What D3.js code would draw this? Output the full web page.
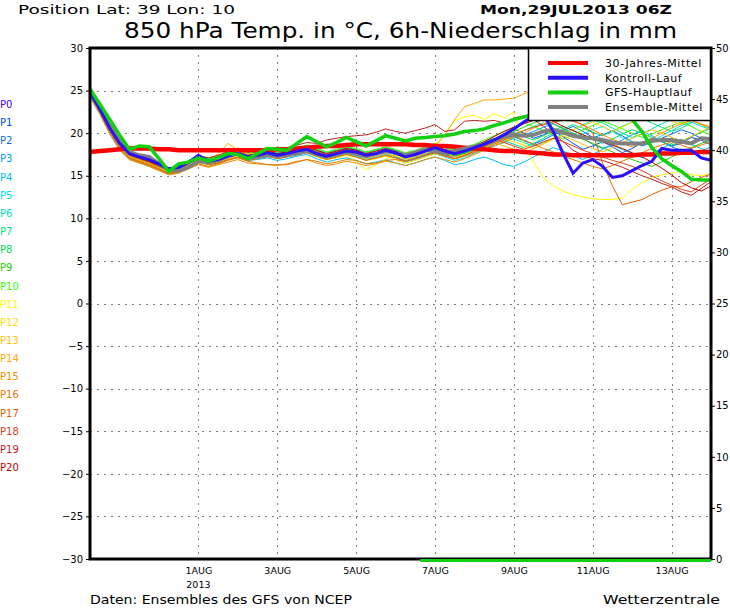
<!DOCTYPE html>
<html>
<head>
<meta charset="utf-8">
<script src="https://cdn.jsdelivr.net/npm/d3@7"></script>
<style>
  body { margin: 0; background: #fff; }
  svg { display: block; font-family: "DejaVu Sans", sans-serif; }
</style>
</head>
<body>
<svg id="chart" width="730" height="609"></svg>
<script>
// run start and time step (6h)
const runStart = Date.UTC(2013, 6, 29, 6);
const stepHours = 6;
const endTime = Date.UTC(2013, 7, 14, 0);

// 30-Jahres-Mittel
const climate = [17.8,17.9,18.0,18.1,18.2,18.2,18.2,18.1, 18.1,18.0,18.0,18.0,18.0,18.0,18.0,18.0,
  18.0,18.0,18.0,18.1,18.1,18.2,18.3,18.4, 18.5,18.5,18.6,18.7,18.7,18.7,18.7,18.7,
  18.7,18.6,18.6,18.5,18.5,18.4,18.3,18.2, 18.1,18.0,17.9,17.9,17.8,17.7,17.6,17.5,
  17.5,17.4,17.4,17.4,17.4,17.4,17.4,17.4, 17.5,17.5,17.6,17.6,17.7,17.7,17.8,17.8];

// Kontroll-Lauf (P0)
const control = [24.8,22.8,20.6,18.8,17.6,17.2,16.9,16.4, 15.8,16.0,16.6,17.4,16.7,16.9,17.3,17.6,
  17.2,17.4,17.7,17.4,17.6,17.9,18.1,17.6, 17.3,17.6,17.9,17.8,17.4,17.6,18.0,17.7,
  17.2,17.5,17.9,18.3,17.9,17.6,17.9,18.3, 18.7,19.2,19.8,20.5,21.3,22.0,22.2,20.2,
  17.6,15.3,16.5,16.9,16.1,14.8,15.0,15.6, 16.2,16.7,18.2,18.0,18.0,18.0,17.1,16.8];

// GFS-Hauptlauf
const gfsMain = [25.2,23.4,21.6,19.8,18.1,18.5,18.4,17.0, 15.5,16.4,16.6,17.1,16.7,17.1,17.6,17.5,
  17.0,17.6,18.2,18.1,18.0,18.8,19.6,19.0, 18.4,18.9,19.5,19.0,18.5,19.1,19.7,19.4,
  19.1,19.4,19.5,19.6,19.7,19.9,20.2,20.3, 20.5,20.9,21.2,21.6,21.9,22.2,22.5,22.8,
  23.0,23.2,23.4,23.4,23.2,22.8,22.2,21.6, 20.2,18.3,17.0,16.2,15.5,14.6,14.5,14.5];

// Ensemble-Mittel
const ensMean = [24.6,23.2,21.2,19.3,17.8,17.4,17.2,16.4, 15.7,15.6,16.0,16.7,16.6,16.8,17.3,17.6,
  17.1,17.2,17.4,17.3,17.4,17.6,17.9,17.5, 17.2,17.5,17.8,17.6,17.3,17.6,17.9,17.7,
  17.4,17.7,18.1,17.9,17.6,17.9,18.2,18.4, 18.7,19.1,19.7,19.8,19.7,19.8,20.2,20.4,
  20.1,19.7,19.5,19.4,19.2,18.9,18.8,18.8, 18.8,19.1,19.2,19.2,19.0,18.8,19.4,19.3];

// ensemble members P1..P20
const p1 = [24.6,22.9,20.8,18.9,17.5,17.0,16.6,16.0, 15.6,15.8,16.4,17.0,16.8,17.1,17.4,17.8,
  17.3,17.5,17.8,17.6,17.9,18.2,18.4,17.9, 17.5,17.8,18.2,18.0,17.5,17.7,18.1,17.9,
  17.3,17.2,17.6,17.9,17.5,17.2,17.6,18.0, 18.6,19.3,19.9,20.5,20.0,19.4,19.8,20.3,
  19.6,18.8,18.1,18.5,19.0,18.4,17.7,18.2, 18.9,19.4,19.0,18.5,18.8,19.5,19.2,18.6];
const p2 = [24.4,22.5,20.3,18.5,17.2,16.8,16.5,15.9, 15.5,15.9,16.7,17.3,16.9,16.8,17.2,17.5,
  17.0,17.3,17.6,17.3,17.5,17.9,18.1,17.7, 17.3,17.6,17.9,17.7,17.2,17.5,17.8,17.5,
  17.0,17.4,17.8,18.2,17.8,17.4,17.7,18.1, 18.5,18.9,19.3,19.6,19.1,18.7,19.2,19.8,
  20.3,20.8,20.2,19.5,19.8,20.3,19.7,19.0, 18.5,18.9,19.4,19.9,20.4,20.0,19.4,19.0];
const p3 = [24.5,22.7,20.5,18.6,17.3,16.9,16.4,15.8, 15.4,15.6,16.2,16.9,16.6,16.9,17.3,17.6,
  17.1,17.2,17.5,17.3,17.6,17.8,18.0,17.5, 17.2,17.5,17.7,17.4,17.0,17.3,17.6,17.2,
  16.8,17.1,17.5,17.8,17.4,17.0,17.4,17.8, 18.2,18.5,18.9,19.4,19.8,20.2,20.7,21.1,
  20.6,20.0,19.4,18.7,18.2,18.6,19.2,19.8, 20.3,19.7,19.0,18.4,18.0,17.6,17.9,18.4];
const p4 = [24.2,22.2,19.9,18.0,16.9,16.5,16.1,15.6, 15.2,15.4,16.0,16.6,16.3,16.5,16.9,17.2,
  16.8,16.9,17.1,16.8,17.0,17.3,17.5,17.0, 16.6,16.9,17.1,16.8,16.4,16.6,16.9,16.5,
  16.2,16.5,16.9,17.2,16.8,16.3,16.5,16.9, 17.2,16.8,16.3,16.1,16.6,17.2,17.8,18.3,
  17.9,17.4,16.9,17.5,18.1,18.6,18.1,17.6, 17.1,17.6,18.2,18.8,19.3,18.7,18.2,17.8];
const p5 = [24.4,22.4,20.2,18.4,17.1,16.7,16.3,15.8, 15.4,15.7,16.3,16.9,16.7,17.0,17.4,17.7,
  17.2,17.4,17.6,17.2,17.4,17.7,17.9,17.4, 17.1,17.4,17.6,17.3,16.9,17.2,17.5,17.1,
  16.6,16.9,17.3,17.6,17.2,16.8,17.1,17.6, 18.1,18.7,19.2,19.7,20.3,20.8,21.2,20.6,
  20.1,19.6,19.9,20.4,20.8,20.2,19.5,19.0, 18.7,19.1,19.7,20.3,20.9,21.3,20.8,20.4];
const p6 = [24.6,22.8,20.6,18.8,17.5,17.1,16.7,16.2, 15.7,15.9,16.5,17.1,16.9,17.2,17.6,17.9,
  17.4,17.6,17.9,17.6,17.8,18.1,18.3,17.9, 17.5,17.8,18.1,17.9,17.4,17.6,18.0,17.7,
  17.3,17.6,18.0,18.4,18.0,17.6,17.9,18.3, 18.8,19.2,19.6,19.3,18.9,18.5,18.9,19.4,
  19.9,20.4,21.0,21.5,21.2,20.6,20.0,19.5, 19.9,20.5,21.1,21.6,22.0,21.6,21.0,20.5];
const p7 = [24.7,23.0,20.9,19.0,17.6,17.2,16.8,16.3, 15.8,16.0,16.6,17.2,17.0,17.3,17.7,18.0,
  17.6,17.8,18.0,17.7,18.0,18.3,18.5,18.1, 17.7,18.0,18.3,18.1,17.7,18.0,18.3,18.0,
  17.6,17.8,18.2,18.6,18.3,17.9,18.2,18.6, 19.0,19.4,19.1,18.7,18.3,18.8,19.4,20.0,
  20.5,21.0,20.6,20.1,19.7,20.2,20.8,21.3, 21.7,21.2,20.7,20.2,20.6,21.2,21.8,22.2];
const p8 = [24.5,22.6,20.4,18.6,17.3,16.9,16.6,16.1, 15.6,15.9,16.5,17.0,16.7,17.0,17.4,17.7,
  17.3,17.5,17.7,17.4,17.7,18.0,18.2,17.8, 17.4,17.7,18.0,17.8,17.3,17.5,17.9,17.6,
  17.2,17.5,17.9,18.2,17.8,17.4,17.7,18.0, 18.4,18.9,19.5,20.1,19.6,19.2,19.7,20.3,
  20.8,20.3,19.8,19.3,18.8,19.3,19.9,20.4, 20.0,19.5,19.0,18.6,19.0,19.6,20.1,20.6];
const p9 = [24.6,22.7,20.5,18.7,17.4,17.0,16.7,16.2, 15.7,16.0,16.6,17.2,16.9,17.1,17.5,17.8,
  17.4,17.6,17.8,17.5,17.8,18.1,18.3,17.8, 17.4,17.6,17.9,17.6,17.2,17.5,17.8,17.5,
  17.1,17.4,17.8,18.1,17.7,17.3,17.6,18.0, 18.5,19.1,19.7,20.2,20.7,21.2,21.6,21.1,
  20.5,19.9,19.3,18.8,18.3,17.8,17.3,16.9, 16.5,16.1,16.6,17.2,17.8,18.3,18.8,19.2];
const p10 = [24.7,22.9,20.8,18.9,17.6,17.2,16.9,16.4, 15.9,16.2,16.8,17.4,17.1,17.4,17.8,18.1,
  17.7,17.9,18.1,17.8,18.0,18.3,18.6,18.2, 17.8,18.1,18.4,18.2,17.8,18.1,18.4,18.1,
  17.7,18.0,18.4,18.8,18.4,18.0,18.3,18.7, 19.2,19.7,20.2,20.7,21.2,20.8,20.3,19.8,
  19.3,19.8,20.4,20.9,21.4,21.0,20.5,20.0, 19.5,19.9,20.4,20.9,21.3,20.8,20.2,19.8];
const p11 = [24.3,22.3,20.0,18.2,17.0,16.6,16.2,15.7, 15.3,15.5,16.0,16.5,16.0,16.4,16.9,17.3,
  16.9,17.1,17.4,17.1,17.3,17.5,17.7,17.2, 16.9,17.1,17.4,16.7,15.7,16.3,17.0,17.4,
  17.0,17.4,18.0,18.6,19.8,21.5,21.9,22.1, 21.6,22.3,21.8,22.5,18.5,16.6,14.8,13.8,
  13.2,12.8,12.5,12.3,12.2,12.2,12.4,13.4, 14.2,14.8,15.1,15.3,15.5,15.1,15.0,15.3];
const p12 = [24.4,22.4,20.1,18.3,17.1,16.7,16.3,15.8, 15.3,15.6,16.1,16.7,16.3,16.6,17.0,17.4,
  17.0,17.2,17.5,17.2,17.4,17.6,17.9,17.4, 17.0,17.3,17.5,17.2,16.8,17.0,17.3,16.9,
  16.5,16.8,17.2,17.6,17.3,17.0,17.4,17.9, 18.3,18.8,19.3,19.0,18.6,18.2,18.7,19.3,
  19.8,20.4,20.9,21.3,20.8,20.2,20.7,21.3, 21.8,22.3,21.9,21.4,21.0,21.5,22.0,21.6];
const p13 = [24.5,22.6,20.4,18.5,17.2,16.8,16.4,15.9, 15.4,15.7,16.3,16.9,16.5,16.8,17.3,18.3,
  17.6,17.5,17.7,17.4,17.6,17.9,18.1,17.6, 17.2,17.5,17.8,17.5,17.0,17.3,17.6,17.3,
  16.9,17.2,17.6,18.0,17.6,17.2,17.5,17.9, 18.4,18.9,18.5,18.1,17.7,18.2,18.8,19.3,
  19.7,19.2,18.7,18.2,17.8,18.3,18.9,19.4, 19.9,20.4,20.0,19.5,19.1,19.6,20.2,20.7];
const p14 = [24.6,22.7,20.5,18.6,17.3,16.9,16.5,16.0, 15.5,15.8,16.4,17.0,16.7,17.6,18.8,18.0,
  17.4,17.5,17.8,17.5,17.7,18.0,18.2,17.8, 17.4,17.7,18.0,17.7,17.3,17.6,17.9,17.6,
  17.3,17.6,18.0,18.4,19.8,21.6,23.1,23.5, 23.9,23.9,24.0,24.1,24.6,25.0,25.2,25.4,
  25.3,25.0,24.6,24.2,23.8,23.5,23.1,22.8, 22.4,22.1,21.9,21.6,21.8,21.5,21.0,20.6];
const p15 = [24.3,22.3,20.0,18.1,16.9,16.5,16.1,15.6, 15.1,15.3,15.8,16.3,16.0,16.3,16.6,16.9,
  16.5,16.4,16.3,16.2,16.4,16.7,16.9,16.5, 16.2,16.4,16.7,16.5,16.2,16.4,16.7,16.5,
  16.2,16.5,16.9,17.2,16.9,16.6,17.0,17.5, 18.0,18.5,19.0,19.5,20.0,20.6,21.1,21.6,
  22.0,21.5,21.0,20.4,19.8,19.3,18.8,18.4, 18.8,19.4,20.0,20.6,21.1,21.5,21.1,20.7];
const p16 = [24.4,22.4,20.1,18.3,17.0,16.6,16.2,15.7, 15.2,15.4,15.9,16.4,16.1,16.4,16.8,17.1,
  16.7,16.5,16.3,16.3,16.3,16.6,16.9,16.7, 16.4,16.6,16.9,16.8,16.4,16.5,16.8,16.9,
  16.7,17.0,17.4,17.7,17.4,17.0,17.3,17.7, 18.2,18.7,19.2,19.7,19.2,18.7,18.2,17.8,
  17.3,16.9,16.5,16.1,15.8,16.2,16.7,17.2, 17.7,18.2,18.6,19.0,18.6,18.2,18.6,19.0];
const p17 = [24.5,22.5,20.2,18.4,17.1,16.7,16.3,15.8, 15.3,15.5,16.1,16.7,16.3,16.5,16.9,17.2,
  16.8,17.0,17.3,17.0,17.2,17.5,17.7,17.3, 16.9,17.2,17.5,17.2,16.8,17.1,17.4,17.1,
  16.7,17.0,17.4,17.7,17.3,17.0,17.4,17.9, 18.4,18.9,19.4,19.9,20.3,20.7,21.0,21.3,
  21.5,21.4,21.0,20.0,16.5,13.8,11.6,11.9, 12.2,12.8,13.3,13.7,13.7,14.3,14.8,15.2];
const p18 = [24.6,22.7,20.5,18.7,17.4,17.0,16.6,16.1, 15.6,15.8,16.4,17.0,16.7,17.0,17.4,17.7,
  17.3,17.5,17.7,17.4,17.6,17.9,18.2,17.8, 17.5,17.8,18.1,17.9,17.5,17.8,18.1,17.8,
  17.5,17.8,18.1,18.4,18.0,17.7,18.0,18.4, 18.9,19.3,18.9,18.5,18.1,18.5,19.0,19.4,
  19.0,18.5,18.0,17.6,17.2,16.8,16.5,16.1, 15.6,15.0,14.4,13.9,13.4,13.1,13.9,14.6];
const p19 = [24.8,23.0,20.9,19.0,17.7,17.3,16.9,16.4, 15.9,16.1,16.7,17.3,17.1,17.4,17.8,18.1,
  17.8,18.0,18.3,18.1,18.3,18.6,18.9,18.8, 19.2,19.4,19.6,19.7,19.8,20.1,20.5,20.2,
  20.0,20.3,20.6,21.0,20.2,20.4,21.4,21.5, 21.4,21.5,21.2,21.8,22.0,21.6,20.8,19.9,
  19.0,18.0,17.4,17.0,16.8,16.4,16.0,15.5, 15.0,14.6,14.1,13.7,13.1,12.7,13.5,14.3];
const p20 = [24.7,22.8,20.7,18.8,17.5,17.1,16.7,16.2, 15.7,15.9,16.5,17.1,16.8,17.1,17.5,17.8,
  17.4,17.6,17.9,17.6,17.8,18.1,18.4,18.0, 17.6,17.9,18.2,18.0,17.6,17.9,18.2,17.9,
  17.5,17.8,18.2,18.5,18.1,17.8,18.1,18.5, 19.0,19.6,20.2,20.7,21.1,21.5,21.9,21.4,
  20.8,20.3,19.8,19.4,19.0,18.6,18.2,17.7, 17.2,16.6,15.9,15.1,14.2,13.6,13.2,13.8];
const members = [p1,p2,p3,p4,p5,p6,p7,p8,p9,p10,p11,p12,p13,p14,p15,p16,p17,p18,p19,p20];

// member labels and colours (P0 = control)
const memberLabels = d3.range(21).map(i => "P" + i);
const memberColors = ["#4000ff","#0050ff","#0a70e8","#0098ff","#00c0f0","#00e0f0","#00e0b0",
  "#00e080","#00e050","#20d000","#30ff00","#ffff00","#ffd800","#ffc000","#ffa800",
  "#f09000","#e87800","#e06000","#d84020","#c02020","#c00000"];

// GFS main run 6h precipitation (mm), starts at step 34
const precipStart = 34;
const gfsPrecip = [0,0,0,0,0,0,0,0,0,0,0,0,0,0,0,0,0,0,0,0,0,0,0,0,0,0,0,0,0,0];

// axis ticks
const tempTicks = d3.range(-30, 31, 5);
const precipTicks = d3.range(0, 51, 5);
const dateTicks = [1,3,5,7,9,11,13].map(d => Date.UTC(2013, 7, d));

const legendItems = [
  { label: "30-Jahres-Mittel", color: "#ff0000" },
  { label: "Kontroll-Lauf", color: "#2a10ff" },
  { label: "GFS-Hauptlauf", color: "#10d010" },
  { label: "Ensemble-Mittel", color: "#808080" }
];

const svg = d3.select("#chart");
const pLeft = 90, pRight = 711, pTop = 48, pBottom = 559;

const x = d3.scaleUtc().domain([runStart, endTime]).range([pLeft, pRight]);
const yT = d3.scaleLinear().domain([-30, 30]).range([pBottom, pTop]);
const yP = d3.scaleLinear().domain([0, 50]).range([pBottom, pTop]);
const stepTime = i => runStart + i * stepHours * 3600 * 1000;

svg.append("rect").attr("width", 730).attr("height", 609).attr("fill", "#fff");

// header
svg.append("text").attr("x", 18).attr("y", 14).attr("font-size", 13)
  .attr("textLength", 217).attr("lengthAdjust", "spacingAndGlyphs")
  .text("Position   Lat: 39 Lon: 10");
svg.append("text").attr("x", 480).attr("y", 14).attr("font-size", 13).attr("font-weight", "bold")
  .attr("textLength", 192).attr("lengthAdjust", "spacingAndGlyphs")
  .text("Mon,29JUL2013 06Z");
svg.append("text").attr("x", 124).attr("y", 38).attr("font-size", 21)
  .attr("textLength", 553).attr("lengthAdjust", "spacingAndGlyphs")
  .text("850 hPa Temp. in °C, 6h-Niederschlag in mm");

// grid
const grid = svg.append("g").attr("stroke", "#808080").attr("stroke-width", 1)
  .attr("stroke-dasharray", "2,5").attr("shape-rendering", "crispEdges");
grid.selectAll(".h").data(tempTicks.filter(t => t > -30 && t < 30)).enter().append("line")
  .attr("x1", pLeft).attr("x2", pRight)
  .attr("y1", d => Math.round(yT(d)) + 0.5).attr("y2", d => Math.round(yT(d)) + 0.5);
grid.selectAll(".v").data(dateTicks).enter().append("line")
  .attr("y1", pTop).attr("y2", pBottom)
  .attr("x1", d => Math.round(x(d)) + 0.5).attr("x2", d => Math.round(x(d)) + 0.5);

// plot lines
svg.append("clipPath").attr("id", "plot").append("rect")
  .attr("x", pLeft).attr("y", pTop).attr("width", pRight - pLeft).attr("height", pBottom - pTop);
const plot = svg.append("g").attr("clip-path", "url(#plot)").attr("fill", "none");
const line = d3.line().x((d, i) => x(stepTime(i))).y(d => yT(d));

plot.selectAll(".member").data(members).enter().append("path")
  .attr("d", line).attr("stroke", (d, i) => memberColors[i + 1]).attr("stroke-width", 1);

plot.append("path").attr("d", line(climate)).attr("stroke", legendItems[0].color).attr("stroke-width", 4.5);
plot.append("path").attr("d", line(ensMean)).attr("stroke", legendItems[3].color).attr("stroke-width", 4);
plot.append("path").attr("d", line(control)).attr("stroke", legendItems[1].color).attr("stroke-width", 3);
plot.append("path").attr("d", line(gfsMain)).attr("stroke", legendItems[2].color).attr("stroke-width", 3.5);

// frame
svg.append("rect").attr("x", pLeft).attr("y", pTop).attr("width", pRight - pLeft).attr("height", pBottom - pTop)
  .attr("fill", "none").attr("stroke", "#000").attr("stroke-width", 3);

// precipitation (GFS main run) as steps at the bottom
const precipPts = [];
gfsPrecip.forEach((v, k) => {
  const i = precipStart + k;
  precipPts.push([stepTime(i - 0.5), v], [stepTime(i + 0.5), v]);
});
svg.append("path")
  .attr("d", d3.line().x(d => Math.min(x(d[0]), pRight)).y(d => yP(d[1]) + 1.5)(precipPts))
  .attr("fill", "none").attr("stroke", "#10d010").attr("stroke-width", 3);

// axes
const axL = svg.append("g").attr("transform", `translate(${pLeft - 1},0)`)
  .call(d3.axisLeft(yT).tickValues(tempTicks).tickSize(3).tickPadding(3));
const axR = svg.append("g").attr("transform", `translate(${pRight + 1},0)`)
  .call(d3.axisRight(yP).tickValues(precipTicks).tickSize(3).tickPadding(1));
const axB = svg.append("g").attr("transform", `translate(0,${pBottom + 1})`)
  .call(d3.axisBottom(x).tickValues(dateTicks).tickSize(0).tickPadding(7)
    .tickFormat(d => d3.utcFormat("%-d")(d) + "AUG"));
[axL, axR, axB].forEach(a => {
  a.select(".domain").remove();
  a.selectAll("text").attr("font-family", "DejaVu Sans, sans-serif").attr("font-size", 10).attr("fill", "#000");
  a.selectAll("line").attr("stroke", "#000");
});
axB.selectAll("text").attr("font-size", 9.5);
svg.append("text").attr("x", x(dateTicks[0])).attr("y", 588).attr("text-anchor", "middle")
  .attr("font-size", 9.5).text("2013");

// member labels on the left
svg.selectAll(".plab").data(memberLabels).enter().append("text")
  .attr("x", 0).attr("y", (d, i) => 108 + i * 18.15)
  .attr("font-size", 10).attr("fill", (d, i) => memberColors[i]).text(d => d);

// legend
const lg = svg.append("g");
lg.append("rect").attr("x", 528.5).attr("y", 48.5).attr("width", 182).attr("height", 72)
  .attr("fill", "#fff").attr("stroke", "#000").attr("stroke-width", 1.5);
legendItems.forEach((it, k) => {
  const yy = 63 + k * 14.7;
  lg.append("line").attr("x1", 548).attr("x2", 588).attr("y1", yy).attr("y2", yy)
    .attr("stroke", it.color).attr("stroke-width", 4);
  lg.append("text").attr("x", 605).attr("y", yy + 4).attr("font-size", 11)
    .attr("letter-spacing", 0.6).text(it.label);
});

// footer
svg.append("text").attr("x", 90).attr("y", 604).attr("font-size", 12)
  .attr("textLength", 262).attr("lengthAdjust", "spacingAndGlyphs")
  .text("Daten: Ensembles des GFS von NCEP");
svg.append("text").attr("x", 603).attr("y", 604).attr("font-size", 13)
  .attr("textLength", 117).attr("lengthAdjust", "spacingAndGlyphs")
  .text("Wetterzentrale");
</script>
</body>
</html>
